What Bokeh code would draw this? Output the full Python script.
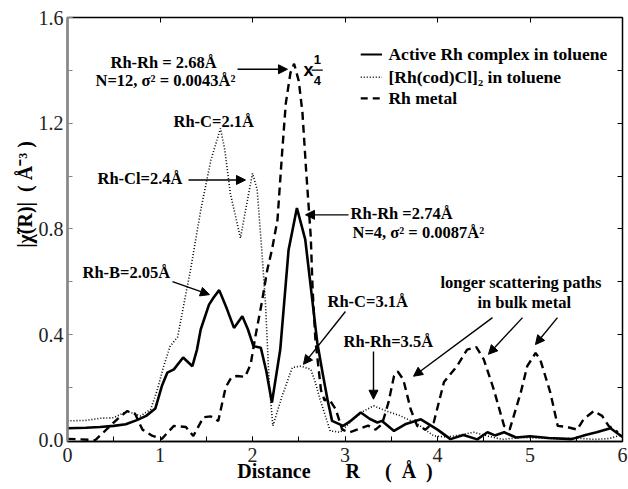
from bokeh.plotting import figure
from bokeh.models import (LinearAxis, SingleIntervalTicker, FixedTicker, PrintfTickFormatter,
                          Arrow, NormalHead, ColumnDataSource, Range1d)
from bokeh.core.properties import value
from bokeh.embed import file_html
from bokeh.resources import INLINE

# ---- data ----
active_r = [0.0, 0.2, 0.35, 0.5, 0.63, 0.75, 0.85, 0.95, 1.02, 1.08, 1.15, 1.25, 1.35, 1.40, 1.44,
            1.53, 1.58, 1.64, 1.72, 1.80, 1.89, 1.95, 2.01, 2.09, 2.15, 2.21, 2.30, 2.39, 2.48,
            2.57, 2.64, 2.70, 2.76, 2.81, 2.86, 2.98, 3.05, 3.17, 3.27, 3.35, 3.40, 3.53, 3.65,
            3.82, 4.0, 4.14, 4.28, 4.43, 4.54, 4.62, 4.72, 4.85, 5.0, 5.2, 5.45, 5.6, 5.72, 5.87, 6.0]
active_v = [0.045, 0.047, 0.050, 0.054, 0.060, 0.076, 0.092, 0.120, 0.205, 0.256, 0.268, 0.313, 0.280, 0.343, 0.419,
            0.513, 0.540, 0.568, 0.500, 0.425, 0.469, 0.420, 0.356, 0.350, 0.260, 0.142, 0.343, 0.720, 0.879,
            0.760, 0.550, 0.370, 0.250, 0.155, 0.073, 0.054, 0.070, 0.105, 0.080, 0.067, 0.073, 0.035, 0.060,
            0.079, 0.040, 0.004, 0.020, 0.003, 0.030, 0.018, 0.030, 0.010, 0.015, 0.008, 0.004, 0.020, 0.030, 0.045, 0.012]

cod_r = [0.0, 0.2, 0.36, 0.5, 0.645, 0.72, 0.79, 0.9, 0.97, 1.04, 1.11, 1.19, 1.25, 1.33, 1.44, 1.55,
         1.654, 1.70, 1.76, 1.87, 1.93, 2.0, 2.05, 2.10, 2.14, 2.18, 2.22, 2.32, 2.43, 2.52, 2.57, 2.63,
         2.68, 2.73, 2.84, 2.95, 3.09, 3.20, 3.31, 3.45, 3.60, 3.78, 3.96, 4.1, 4.25, 4.39, 4.55, 4.7,
         4.9, 5.1, 5.3, 5.5, 5.7, 5.85, 6.0]
cod_v = [0.073, 0.075, 0.083, 0.085, 0.110, 0.100, 0.092, 0.117, 0.190, 0.280, 0.356, 0.390, 0.500, 0.645, 0.870, 1.060,
         1.180, 1.100, 0.935, 0.765, 0.880, 1.010, 0.950, 0.720, 0.520, 0.218, 0.054, 0.167, 0.275, 0.280, 0.275, 0.268,
         0.218, 0.155, 0.035, 0.030, 0.080, 0.110, 0.130, 0.110, 0.092, 0.062, 0.016, 0.012, 0.020, 0.030, 0.015, 0.003,
         0.010, 0.008, 0.005, 0.008, 0.003, 0.006, 0.020]

metal_r = [0.0, 0.15, 0.30, 0.39, 0.54, 0.645, 0.73, 0.81, 0.92, 1.02, 1.15, 1.28, 1.36, 1.47, 1.55, 1.63,
           1.71, 1.77, 1.83, 1.92, 1.98, 2.03, 2.10, 2.16, 2.21, 2.27, 2.32, 2.36, 2.41, 2.45, 2.50, 2.54,
           2.58, 2.63, 2.65, 2.68, 2.74, 2.78, 2.82, 2.90, 2.97, 3.05, 3.13, 3.25, 3.33, 3.40, 3.47, 3.53,
           3.57, 3.63, 3.71, 3.78, 3.87, 3.96, 4.07, 4.21, 4.32, 4.42, 4.50, 4.61, 4.72, 4.78, 4.90, 4.97,
           5.06, 5.11, 5.22, 5.30, 5.40, 5.51, 5.58, 5.69, 5.78, 5.85, 5.95]
metal_v = [0.005, 0.003, 0.000, 0.030, 0.080, 0.110, 0.100, 0.040, 0.016, 0.005, 0.054, 0.050, 0.016, 0.087, 0.090, 0.073,
           0.200, 0.237, 0.243, 0.240, 0.287, 0.390, 0.520, 0.645, 0.720, 0.834, 1.087, 1.275, 1.390, 1.425, 1.360, 1.240,
           1.020, 0.770, 0.570, 0.380, 0.190, 0.150, 0.160, 0.117, 0.040, 0.030, 0.040, 0.055, 0.040, 0.060, 0.143, 0.243,
           0.260, 0.230, 0.117, 0.054, 0.040, 0.068, 0.220, 0.280, 0.343, 0.352, 0.306, 0.190, 0.054, 0.040, 0.180, 0.280,
           0.330, 0.306, 0.180, 0.054, 0.050, 0.040, 0.080, 0.110, 0.092, 0.054, 0.030]

series_names = ["Active Rh complex in toluene", "[Rh(cod)Cl]\u2082 in toluene", "Rh metal"]
top_ticks = [1, 2, 3, 4, 5]
side_ticks = [0.2, 0.4, 0.6, 0.8, 1.0, 1.2, 1.4]

NB = "\u00a0"
SERIF = value("Liberation Serif")

p = figure(width=628, height=489, x_range=Range1d(0, 6), y_range=Range1d(-0.005, 1.6),
           output_backend="svg", toolbar_location=None,
           min_border_left=67, min_border_right=6, min_border_top=17, min_border_bottom=48)
p.grid.visible = False
p.background_fill_color = "white"
p.outline_line_color = "black"
p.outline_line_width = 1.5

# bottom / left axes
xa = p.xaxis[0]
xa.ticker = SingleIntervalTicker(interval=1, num_minor_ticks=2)
xa.formatter = PrintfTickFormatter(format="%d")
ya = p.yaxis[0]
ya.ticker = SingleIntervalTicker(interval=0.4, num_minor_ticks=2)
ya.formatter = PrintfTickFormatter(format="%.1f")
for ax in (xa, ya):
    ax.major_tick_in = 5
    ax.major_tick_out = 0
    ax.minor_tick_in = 5
    ax.minor_tick_out = 0
    ax.major_label_text_font = "Liberation Serif"
    ax.major_label_text_font_size = "20px"
    ax.major_label_text_color = "#222222"
    ax.axis_label_text_font = "Liberation Serif"
    ax.axis_label_text_font_style = "bold"
    ax.axis_label_text_font_size = "20px"
    ax.axis_label_text_color = "black"
xa.axis_line_color = "black"
xa.axis_line_width = 1.5
xa.major_tick_line_color = "black"
xa.minor_tick_line_color = "black"
xa.major_label_standoff = 6
xa.axis_label = "Distance" + NB * 7 + "R" + NB * 5 + "(" + NB * 2 + "\u00c5" + NB * 2 + ")" + NB * 4
xa.axis_label_standoff = -5
ya.axis_line_color = "#888888"
ya.axis_line_width = 2.5
ya.major_tick_line_color = "#888888"
ya.minor_tick_line_color = "#888888"
ya.major_label_standoff = 4
ya.axis_label = NB * 14 + "|\u03c7\u0303(R)|" + NB * 2 + "(" + NB + "\u00c5\u207b\u00b3" + NB + ")"
ya.axis_label_standoff = 0

# top / right axes: ticks only (minor ticks carry no labels)
top = LinearAxis(ticker=FixedTicker(ticks=[], minor_ticks=top_ticks),
                 minor_tick_in=5, minor_tick_out=0, major_tick_out=0, major_tick_in=0,
                 axis_line_color="black", major_label_standoff=0)
right = LinearAxis(ticker=FixedTicker(ticks=[], minor_ticks=side_ticks),
                   minor_tick_in=5, minor_tick_out=0, major_tick_out=0, major_tick_in=0,
                   axis_line_color="black", major_label_standoff=0)
p.add_layout(top, "above")
p.add_layout(right, "right")

# curves
p.line(cod_r, cod_v, line_color="black", line_width=1.6, line_dash="1 2")
p.line(metal_r, metal_v, line_color="black", line_width=2.4, line_dash="8 5")
p.line(active_r, active_v, line_color="black", line_width=2.6)

# legend (manual)
leg_y = [1.460, 1.374, 1.294]
p.line([3.17, 3.40], [leg_y[0]] * 2, line_color="black", line_width=2.2)
p.line([3.17, 3.40], [leg_y[1]] * 2, line_color="black", line_width=1.6, line_dash="1 2")
p.line([3.17, 3.40], [leg_y[2]] * 2, line_color="black", line_width=2.2, line_dash="7 5")
p.text(x=[3.47] * 3, y=leg_y, text=series_names, text_font=SERIF, text_font_style="bold",
       text_font_size="17.5px", text_baseline="middle", text_align="left", text_color="black")

# annotation texts
ann = ColumnDataSource(dict(
    x=[0.465, 0.303, 1.146, 0.324, 3.06, 3.081, 0.162, 2.811, 2.984, 4.032, 4.432],
    y=[1.430, 1.362, 1.2075, 0.989, 0.857, 0.785, 0.634, 0.525, 0.374, 0.596, 0.521],
    t=["Rh-Rh = 2.68\u00c5", "N=12, \u03c3\u00b2 = 0.0043\u00c5\u00b2", "Rh-C=2.1\u00c5", "Rh-Cl=2.4\u00c5",
       "Rh-Rh =2.74\u00c5", "N=4, \u03c3\u00b2 = 0.0087\u00c5\u00b2", "Rh-B=2.05\u00c5", "Rh-C=3.1\u00c5",
       "Rh-Rh=3.5\u00c5", "longer scattering paths", "in bulk metal"]))
p.text(x="x", y="y", text="t", source=ann, text_font=SERIF, text_font_style="bold",
       text_font_size="16.5px", text_baseline="middle", text_align="left", text_color="black")

# x 1/4 scale marker
p.text(x=[2.55], y=[1.40], text=["x"], text_font=value("Liberation Sans"), text_font_style="bold",
       text_font_size="18px", text_baseline="middle", text_align="left")
p.text(x=[2.70, 2.70], y=[1.440, 1.362], text=["1", "4"], text_font=value("Liberation Sans"),
       text_font_style="bold", text_font_size="13px", text_baseline="middle", text_align="center")
p.segment(x0=[2.64], y0=[1.401], x1=[2.76], y1=[1.401], line_color="black", line_width=1.2)

# arrows
arrows = [
    (1.838, 1.404, 2.378, 1.404),
    (1.308, 0.985, 1.924, 0.985),
    (3.038, 0.853, 2.573, 0.853),
    (1.135, 0.600, 1.535, 0.551),
    (3.005, 0.487, 2.551, 0.287),
    (3.308, 0.336, 3.308, 0.155),
    (4.595, 0.464, 3.741, 0.242),
    (4.919, 0.464, 4.551, 0.325),
    (5.297, 0.464, 5.059, 0.362),
]
for x0, y0, x1, y1 in arrows:
    p.add_layout(Arrow(x_start=x0, y_start=y0, x_end=x1, y_end=y1, line_width=1.4,
                       line_color="black",
                       end=NormalHead(size=9, fill_color="black", line_color="black", line_width=1)))

open("out.html", "w").write(file_html(p, INLINE))
